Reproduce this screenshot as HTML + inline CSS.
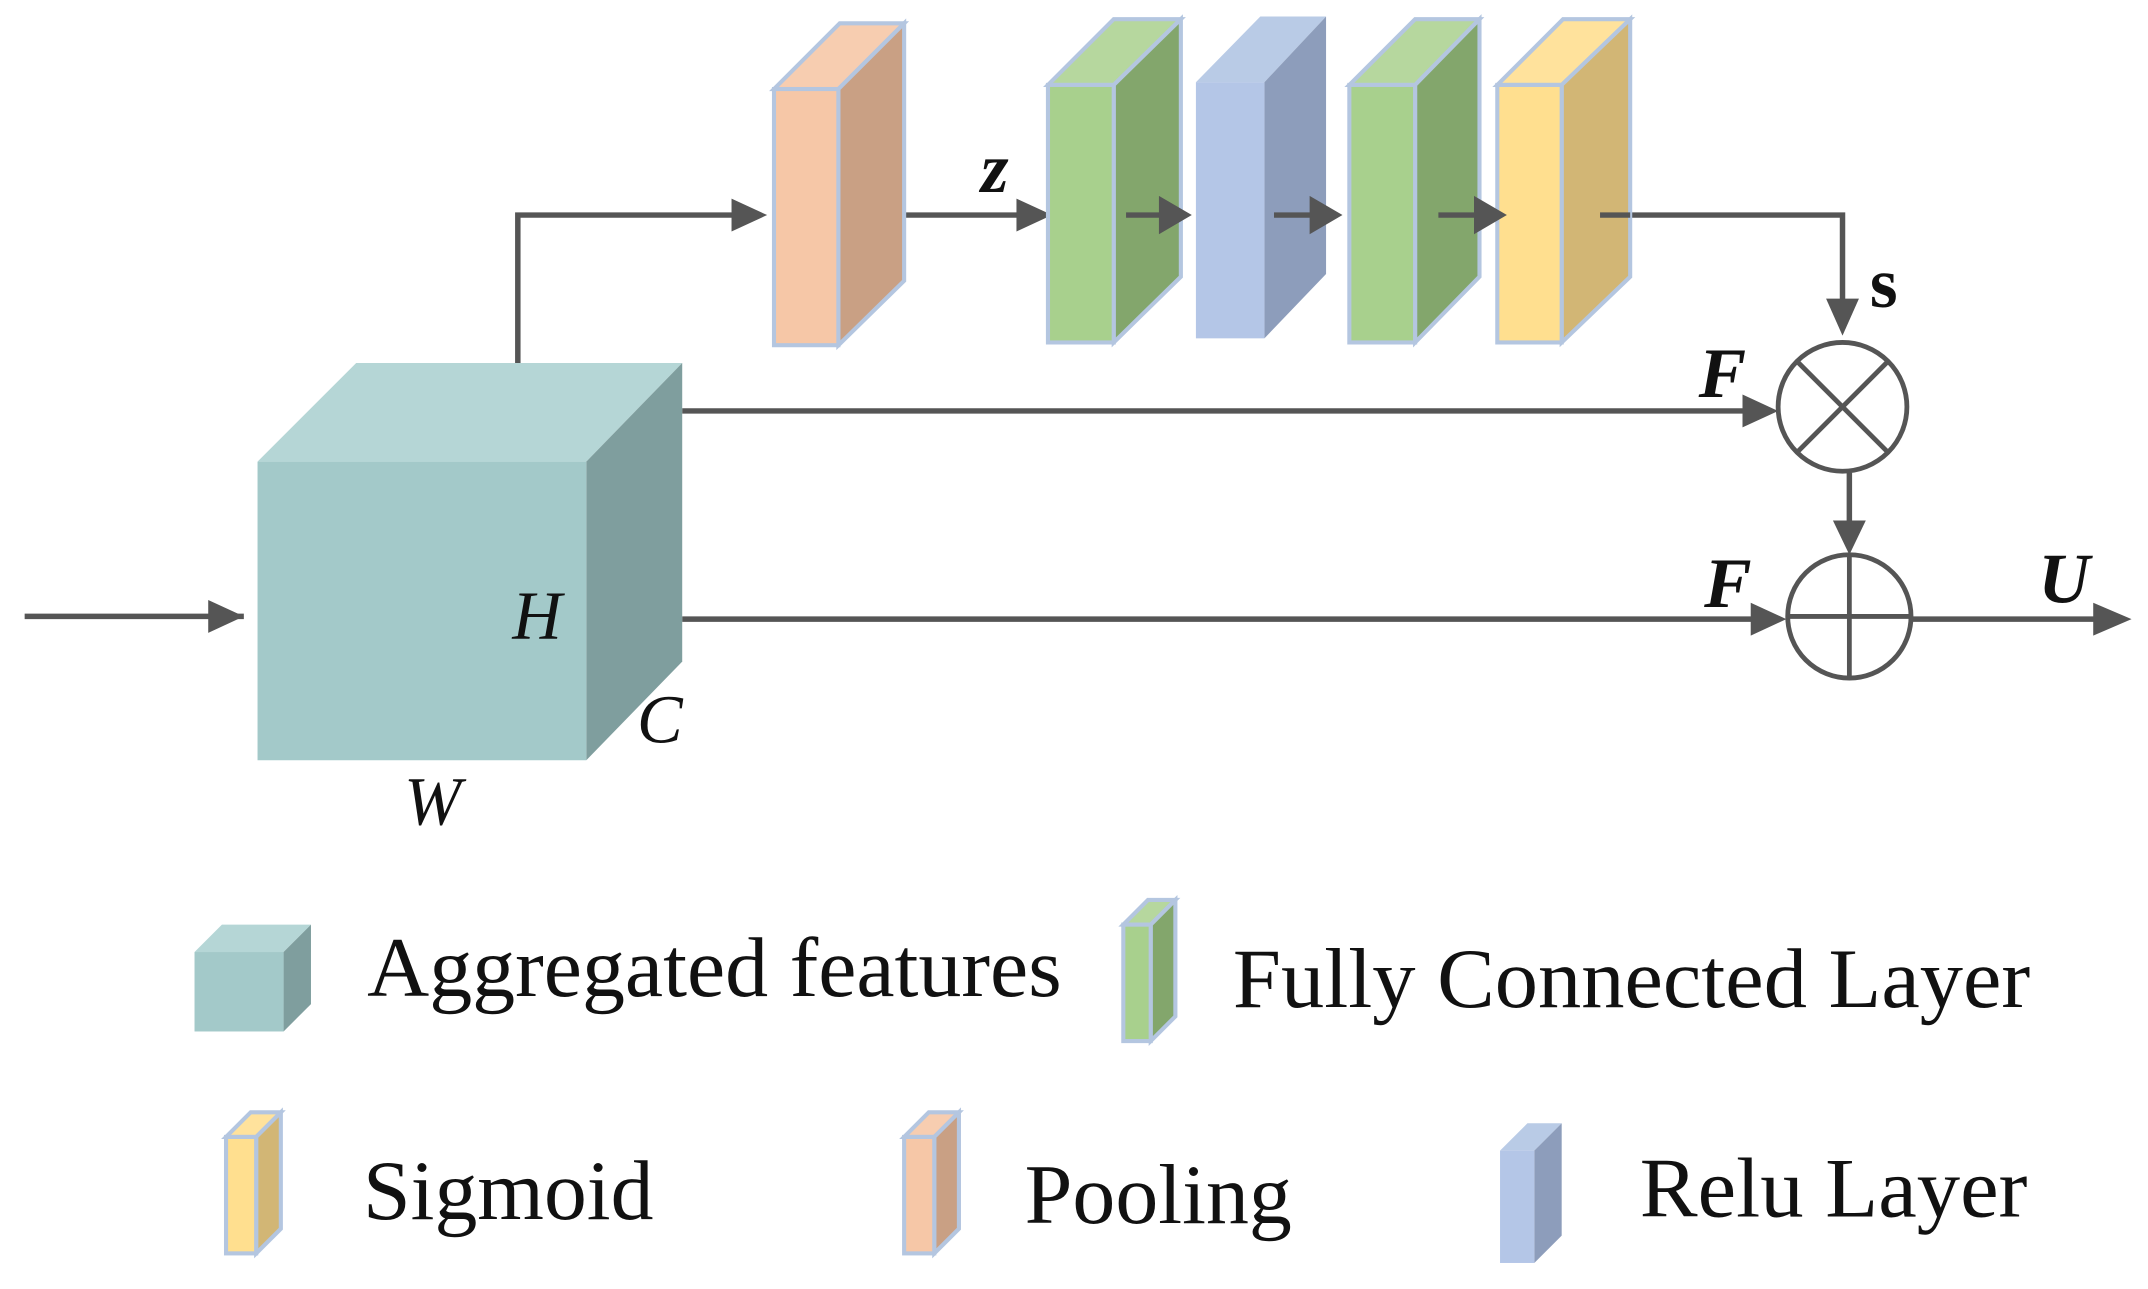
<!DOCTYPE html>
<html><head><style>html,body{margin:0;padding:0;background:#fff}svg{display:block}</style></head><body>
<svg width="2148" height="1289" viewBox="0 0 1568 941" preserveAspectRatio="none" xmlns="http://www.w3.org/2000/svg">
<g stroke="#555" stroke-width="4" fill="none">
<line x1="18" y1="450" x2="178" y2="450"/>
<polyline points="378,265 378,157 540,157"/>
<line x1="660" y1="157" x2="748" y2="157"/>
<polyline points="1170,157 1345,157 1345,220"/>
<line x1="498" y1="300" x2="1280" y2="300"/>
<line x1="1350" y1="345" x2="1350" y2="390"/>
<line x1="498" y1="452" x2="1285" y2="452"/>
<line x1="1395" y1="452" x2="1535" y2="452"/>
</g>
<g fill="#555">
<path d="M152,438 L178,450 L152,462z"/>
<path d="M534,145 L560,157 L534,169z"/>
<path d="M742,145 L768,157 L742,169z"/>
<path d="M1333,218 L1345,245 L1357,218z"/>
<path d="M1272,288 L1298,300 L1272,312z"/>
<path d="M1338,380 L1350,405 L1362,380z"/>
<path d="M1278,440 L1304,452 L1278,464z"/>
<path d="M1528,440 L1556,452 L1528,464z"/>
</g>
<!-- cube -->
<polygon points="188,337 260,265 498,265 428,337" fill="#b5d6d6"/>
<polygon points="428,337 498,265 498,483 428,555" fill="#7f9e9e"/>
<rect x="188" y="337" width="240" height="218" fill="#a3c9c9"/>
<g font-family="Liberation Serif,serif" font-style="italic" font-size="50" fill="#111">
<text x="374" y="466">H</text><text x="465" y="542">C</text><text x="295" y="602">W</text>
</g>
<!-- slabs -->
<g stroke="#b4c6e0" stroke-width="3">
<polygon points="565,65 613,17 660,17 612,65" fill="#f7cdb0"/>
<polygon points="612,65 660,17 660,205 612,252" fill="#c9a084"/>
<rect x="565" y="65" width="47" height="187" fill="#f6c7a7"/>
<polygon points="765,62 813,14 862,14 813,62" fill="#b6d79e"/>
<polygon points="813,62 862,14 862,202 813,250" fill="#83a66c"/>
<rect x="765" y="62" width="48" height="188" fill="#a8d08d"/>
<polygon points="873,60 920,12 968,12 923,60" fill="#b9cbe6" stroke="none"/>
<polygon points="923,60 968,12 968,200 923,247" fill="#8d9dbb" stroke="none"/>
<rect x="873" y="60" width="50" height="187" fill="#b4c6e7" stroke="none"/>
<polygon points="985,62 1033,14 1080,14 1033,62" fill="#b6d79e"/>
<polygon points="1033,62 1080,14 1080,202 1033,250" fill="#83a66c"/>
<rect x="985" y="62" width="48" height="188" fill="#a8d08d"/>
<polygon points="1093,62 1141,14 1190,14 1140,62" fill="#ffe29c"/>
<polygon points="1140,62 1190,14 1190,202 1140,250" fill="#d2b675"/>
<rect x="1093" y="62" width="47" height="188" fill="#ffdf8f"/>
</g>
<g stroke="#555" stroke-width="4">
<line x1="822" y1="157" x2="850" y2="157"/>
<line x1="930" y1="157" x2="960" y2="157"/>
<line x1="1050" y1="157" x2="1080" y2="157"/>
<line x1="1168" y1="157" x2="1190" y2="157"/>
</g>
<g fill="#555">
<path d="M846,143 L870,157 L846,171z"/>
<path d="M956,143 L980,157 L956,171z"/>
<path d="M1076,143 L1100,157 L1076,171z"/>
</g>
<!-- operators -->
<g stroke="#555" stroke-width="3.5" fill="none">
<circle cx="1345" cy="297" r="47"/>
<line x1="1312" y1="264" x2="1378" y2="330"/><line x1="1378" y1="264" x2="1312" y2="330"/>
<circle cx="1350" cy="450" r="45"/>
<line x1="1305" y1="450" x2="1395" y2="450"/><line x1="1350" y1="405" x2="1350" y2="495"/>
</g>
<g font-family="Liberation Serif,serif" font-weight="bold" font-size="52" fill="#111">
<text x="716" y="140" font-style="italic">z</text>
<text x="1365" y="224">s</text>
<text x="1240" y="290" font-style="italic">F</text>
<text x="1244" y="443" font-style="italic">F</text>
<text x="1488" y="440" font-style="italic">U</text>
</g>
<!-- legend -->
<polygon points="142,695 162,675 227,675 207,695" fill="#b5d6d6"/>
<polygon points="207,695 227,675 227,733 207,753" fill="#7f9e9e"/>
<rect x="142" y="695" width="65" height="58" fill="#a3c9c9"/>
<g stroke="#b4c6e0" stroke-width="3">
<polygon points="820,675 838,657 858,657 840,675" fill="#b6d79e"/>
<polygon points="840,675 858,657 858,742 840,760" fill="#83a66c"/>
<rect x="820" y="675" width="20" height="85" fill="#a8d08d"/>
<polygon points="165,830 183,812 205,812 187,830" fill="#ffe29c"/>
<polygon points="187,830 205,812 205,897 187,915" fill="#d2b675"/>
<rect x="165" y="830" width="22" height="85" fill="#ffdf8f"/>
<polygon points="660,830 678,812 700,812 682,830" fill="#f7cdb0"/>
<polygon points="682,830 700,812 700,897 682,915" fill="#c9a084"/>
<rect x="660" y="830" width="22" height="85" fill="#f6c7a7"/>
</g>
<polygon points="1095,840 1115,820 1140,820 1120,840" fill="#b9cbe6"/>
<polygon points="1120,840 1140,820 1140,902 1120,922" fill="#8d9dbb"/>
<rect x="1095" y="840" width="25" height="82" fill="#b4c6e7"/>
<g font-family="Liberation Serif,serif" font-size="62" fill="#111">
<text x="268" y="727" textLength="507" lengthAdjust="spacingAndGlyphs">Aggregated features</text>
<text x="900" y="735" textLength="582" lengthAdjust="spacingAndGlyphs">Fully Connected Layer</text>
<text x="265" y="890" textLength="212" lengthAdjust="spacingAndGlyphs">Sigmoid</text>
<text x="748" y="893" textLength="195" lengthAdjust="spacingAndGlyphs">Pooling</text>
<text x="1197" y="888" textLength="283" lengthAdjust="spacingAndGlyphs">Relu Layer</text>
</g>
</svg>
</body></html>
